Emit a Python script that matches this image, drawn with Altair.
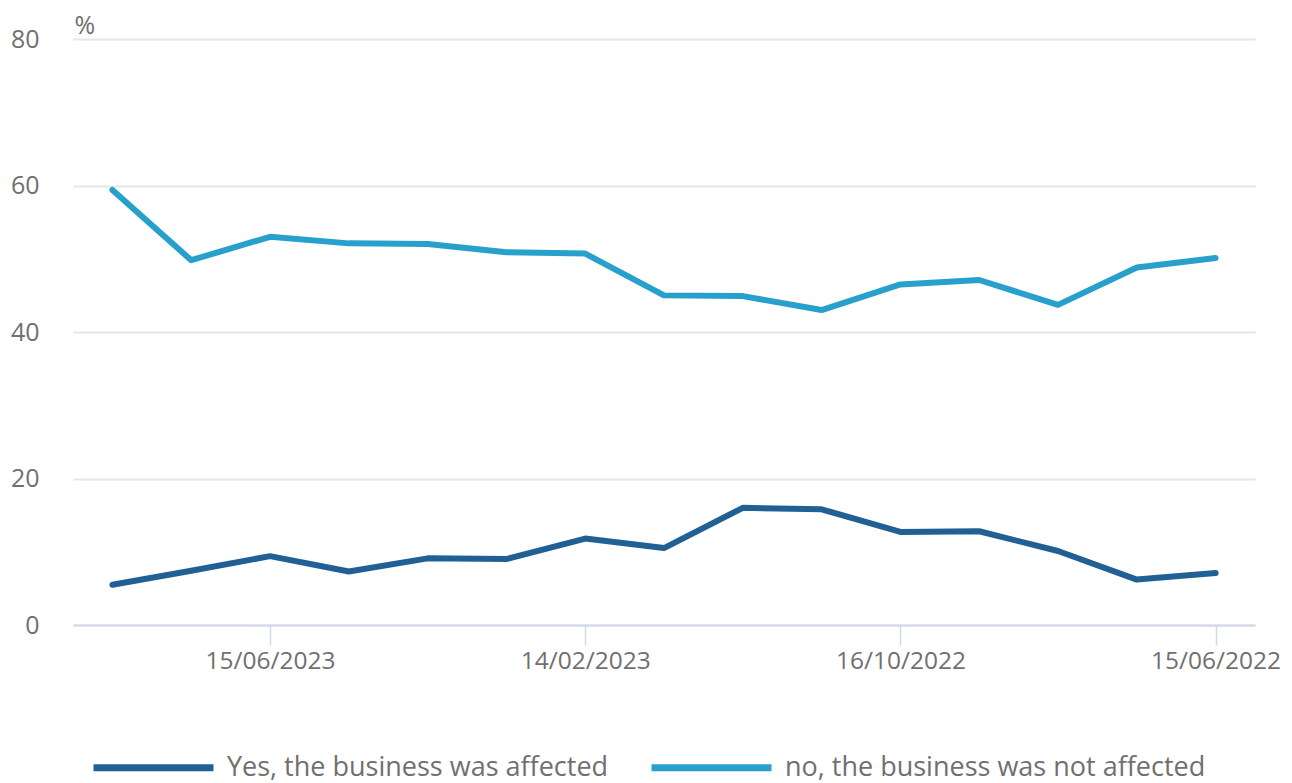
import altair as alt
import pandas as pd

dates = ["14/08/2023", "17/07/2023", "15/06/2023", "15/05/2023", "14/04/2023",
         "15/03/2023", "14/02/2023", "16/01/2023", "15/12/2022", "15/11/2022",
         "16/10/2022", "15/09/2022", "15/08/2022", "15/07/2022", "15/06/2022"]
tick_dates = ["15/06/2023", "14/02/2023", "16/10/2022", "15/06/2022"]
yes_affected = [5.5, 7.4, 9.4, 7.3, 9.1, 9.0, 11.8, 10.5, 16.0, 15.8, 12.7, 12.8, 10.1, 6.2, 7.1]
no_affected = [59.4, 49.8, 53.0, 52.1, 52.0, 50.9, 50.7, 45.0, 44.9, 43.0, 46.5, 47.1, 43.7, 48.8, 50.1]
series = ["Yes, the business was affected", "no, the business was not affected"]
colors = ["#206095", "#27a0cc"]

rows = []
for name, vals in zip(series, [yes_affected, no_affected]):
    for d, v in zip(dates, vals):
        rows.append({"date": d, "value": v, "series": name})
df = pd.DataFrame(rows)

FONT = "Open Sans"
TXT = "#707070"

chart = alt.Chart(df).mark_line(strokeWidth=6, strokeCap="round", strokeJoin="round").encode(
    x=alt.X("date:N", sort=dates, title=None,
            scale=alt.Scale(type="point", padding=0.5),
            axis=alt.Axis(values=tick_dates, labelAngle=0, grid=False,
                          domainColor="#cfd8ea", domainWidth=2,
                          tickColor="#cfd8ea", tickWidth=1.5, tickSize=20,
                          labelPadding=4, labelFontSize=24.5, labelColor=TXT,
                          labelFont=FONT)),
    y=alt.Y("value:Q", title="%",
            scale=alt.Scale(domain=[0, 80], nice=False),
            axis=alt.Axis(values=[0, 20, 40, 60, 80], domain=False, ticks=False,
                          grid=True, gridColor="#e6e6e6", gridWidth=2,
                          labelPadding=34, labelFontSize=25, labelColor=TXT,
                          labelFont=FONT,
                          titleAngle=0, titleX=1, titleY=-6, titleAlign="left",
                          titleBaseline="alphabetic", titleFontSize=25,
                          titleFontWeight="normal", titleColor=TXT, titleFont=FONT)),
    color=alt.Color("series:N", sort=series,
                    scale=alt.Scale(domain=series, range=colors),
                    legend=alt.Legend(title=None, orient="none", direction="horizontal",
                                      legendX=17, legendY=705,
                                      symbolType="M-1,0H5", symbolSize=1600,
                                      symbolStrokeWidth=7, labelOffset=90,
                                      columnPadding=28, padding=0,
                                      labelFontSize=27, labelColor=TXT, labelFont=FONT,
                                      labelLimit=600)),
).properties(width=1182, height=586).configure(
    background="white", padding={"left": 2, "top": 5, "right": 0, "bottom": 0}
).configure_view(stroke=None, strokeWidth=0)

chart.save("out.html", embed_options={"renderer": "svg", "actions": False})
